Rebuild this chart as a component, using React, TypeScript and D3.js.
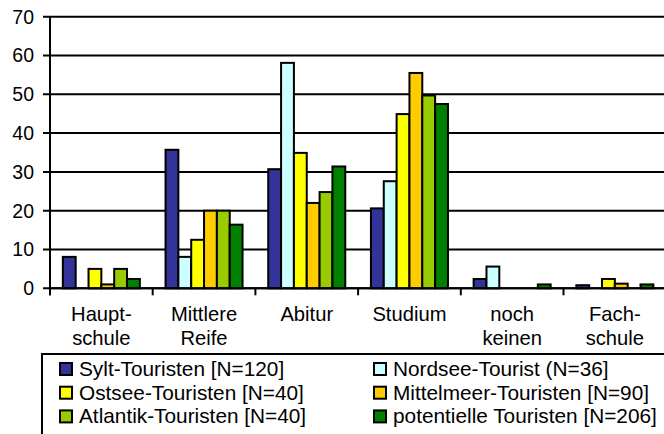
import React from "react";
import * as d3 from "d3";

const categories: string[][] = [
  ["Haupt-", "schule"],
  ["Mittlere", "Reife"],
  ["Abitur"],
  ["Studium"],
  ["noch", "keinen"],
  ["Fach-", "schule"],
];
const seriesNames = [
  "Sylt-Touristen [N=120]",
  "Nordsee-Tourist (N=36]",
  "Ostsee-Touristen [N=40]",
  "Mittelmeer-Touristen [N=90]",
  "Atlantik-Touristen [N=40]",
  "potentielle Touristen [N=206]",
];
const seriesColors = ["#333399", "#CCFFFF", "#FFFF00", "#FFCC00", "#99CC00", "#008000"];
const sylt = [8.1, 35.7, 30.7, 20.6, 2.4, 0.8];
const nordsee = [0, 8.1, 58.1, 27.6, 5.6, 0];
const ostsee = [5, 12.5, 34.9, 44.9, 0, 2.4];
const mittelmeer = [1, 20, 22, 55.5, 0, 1.2];
const atlantik = [5, 20, 24.8, 49.7, 0, 0];
const potentiell = [2.4, 16.4, 31.4, 47.5, 1, 1];
const seriesValues = [sylt, nordsee, ostsee, mittelmeer, atlantik, potentiell];
const yTicks = [0, 10, 20, 30, 40, 50, 60, 70];

const FONT = "'Liberation Sans', Arial, sans-serif";

export default function App() {
  const W = 664, H = 434;
  const x0 = 50, catW = 102.7;
  const x = d3
    .scaleBand<number>()
    .domain(categories.map((_, i) => i))
    .range([x0, x0 + catW * categories.length])
    .padding(0);
  const bw = x.bandwidth();
  const xs = d3
    .scaleBand<number>()
    .domain(seriesNames.map((_, i) => i))
    .range([bw / 8, (bw * 7) / 8])
    .padding(0);
  const y = d3.scaleLinear().domain([0, 70]).range([288.3, 16.7]);

  return (
    <svg
      width={W}
      height={H}
      style={{ position: "absolute", left: 0, top: 0, background: "#fff" }}
      fontFamily={FONT}
    >
      <rect x={0} y={0} width={W} height={H} fill="#fff" />
      {/* gridlines + ticks */}
      {yTicks.map((t) => (
        <g key={t}>
          <line x1={43} x2={W + 5} y1={y(t)} y2={y(t)} stroke="#000" strokeWidth={2} />
          <text x={34} y={y(t)} dy="0.35em" textAnchor="end" fontSize={19.5} fill="#000">
            {t}
          </text>
        </g>
      ))}
      {/* y axis */}
      <line x1={x0} x2={x0} y1={y(70)} y2={y(0) + 7} stroke="#000" strokeWidth={2} />
      {/* category ticks */}
      {categories.map((_, i) => (
        <line
          key={i}
          x1={x(i)!}
          x2={x(i)!}
          y1={y(0)}
          y2={y(0) + 7}
          stroke="#000"
          strokeWidth={2}
        />
      ))}
      {/* bars */}
      {categories.map((_, ci) =>
        seriesValues.map((vals, si) =>
          vals[ci] > 0 ? (
            <rect
              key={`${ci}-${si}`}
              x={x(ci)! + xs(si)!}
              y={y(vals[ci])}
              width={xs.bandwidth()}
              height={y(0) - y(vals[ci])}
              fill={seriesColors[si]}
              stroke="#000"
              strokeWidth={2}
            />
          ) : null
        )
      )}
      {/* x axis line */}
      <line x1={x0} x2={W + 5} y1={y(0)} y2={y(0)} stroke="#000" strokeWidth={2} />
      {/* category labels */}
      {categories.map((lines, i) => (
        <text
          key={i}
          x={x(i)! + bw / 2}
          textAnchor="middle"
          fontSize={20.2}
          fill="#000"
        >
          {lines.map((l, j) => (
            <tspan key={j} x={x(i)! + bw / 2} y={320.5 + j * 24.7}>
              {l}
            </tspan>
          ))}
        </text>
      ))}
      {/* legend */}
      <rect x={42} y={354} width={W} height={120} fill="#fff" stroke="#000" strokeWidth={2} />
      {seriesNames.map((name, i) => {
        const col = i % 2;
        const row = Math.floor(i / 2);
        const sx = col === 0 ? 60 : 374;
        const by = 376 + row * 23.7;
        return (
          <g key={i}>
            <rect
              x={sx}
              y={by - 13}
              width={12}
              height={12}
              fill={seriesColors[i]}
              stroke="#000"
              strokeWidth={2}
            />
            <text x={sx + 19} y={by} fontSize={20.8} fill="#000">
              {name}
            </text>
          </g>
        );
      })}
    </svg>
  );
}
